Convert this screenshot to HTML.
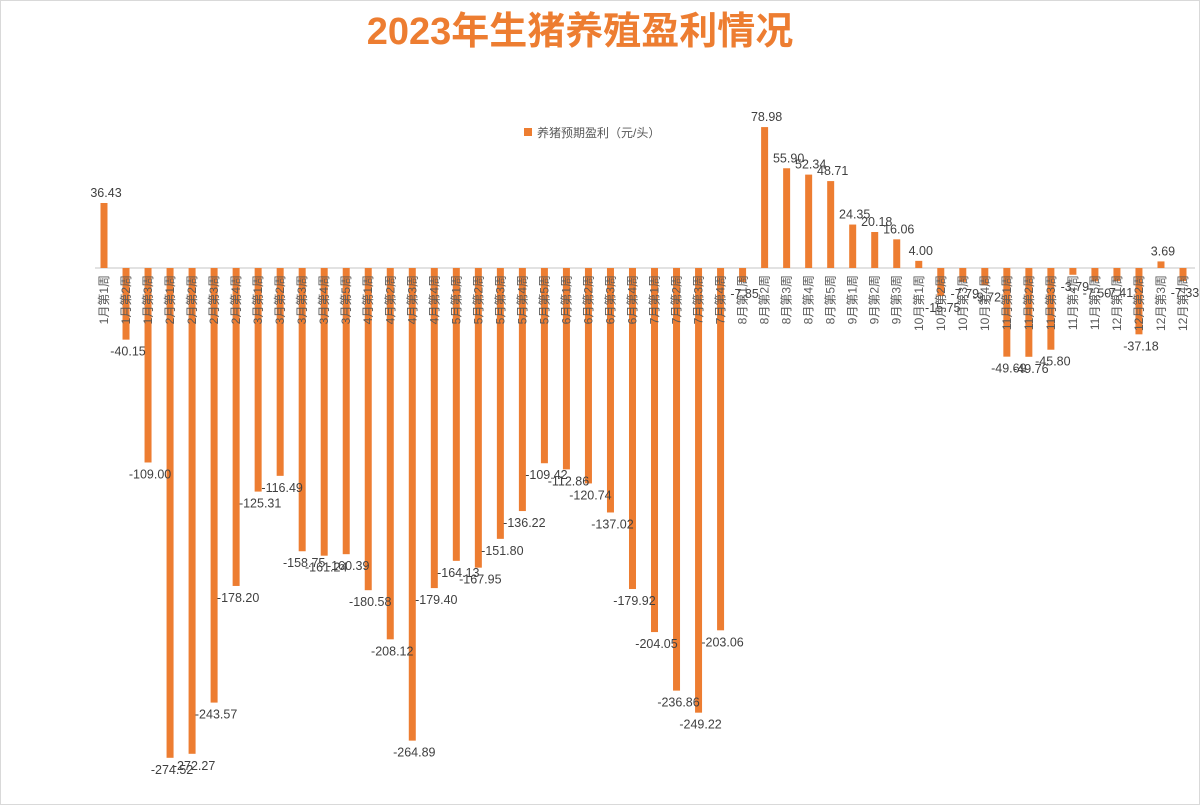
<!DOCTYPE html>
<html><head><meta charset="utf-8"><style>
body{margin:0;background:#fff;}
svg{display:block;font-family:"Liberation Sans","Noto Sans CJK SC",sans-serif;}
</style></head><body>
<svg id="chart" width="1200" height="805" viewBox="0 0 1200 805">
<rect width="1200" height="805" fill="#fff"/>
<rect x="0.5" y="0.5" width="1199" height="804" fill="none" stroke="#d9d9d9"/>
<text x="580" y="44" text-anchor="middle" font-size="38" font-weight="bold" fill="#ed7d31" font-family="'Liberation Sans','Noto Sans CJK SC',sans-serif">2023年生猪养殖盈利情况</text>
<g>
<rect x="524" y="128" width="8" height="8" fill="#ed7d31"/>
<text x="537" y="137" font-size="12" fill="#595959">养猪预期盈利（元/头）</text>
</g>
<line x1="95" y1="268" x2="1195" y2="268" stroke="#d9d9d9" stroke-width="1.5"/>
<g id="bars"></g>
<g id="vlabels"></g>
<g id="clabels"></g>
</svg>
<script>
const months = ["1","1","1","2","2","2","2","3","3","3","3","3","4","4","4","4","5","5","5","5","5","6","6","6","6","7","7","7","7","8","8","8","8","8","9","9","9","10","10","10","10","11","11","11","11","11","12","12","12","12"];
const weeks = [1,2,3,1,2,3,4,1,2,3,4,5,1,2,3,4,1,2,3,4,5,1,2,3,4,1,2,3,4,1,2,3,4,5,1,2,3,1,2,3,4,1,2,3,4,5,1,2,3,4];
const profits = [36.43,-40.15,-109.00,-274.52,-272.27,-243.57,-178.20,-125.31,-116.49,-158.75,-161.24,-160.39,-180.58,-208.12,-264.89,-179.40,-164.13,-167.95,-151.80,-136.22,-109.42,-112.86,-120.74,-137.02,-179.92,-204.05,-236.86,-249.22,-203.06,-7.85,78.98,55.90,52.34,48.71,24.35,20.18,16.06,4.00,-15.75,-7.79,-9.72,-49.69,-49.76,-45.80,-3.79,-7.50,-7.41,-37.18,3.69,-7.33];
const NS="http://www.w3.org/2000/svg";
const x0=104, step=(1183-104)/49, zeroY=268, scale=65/36.43, bw=7;
const xPos=i=>x0+i*step;
const yPos=v=>zeroY-v*scale;
const bars=document.getElementById('bars'), vl=document.getElementById('vlabels'), cl=document.getElementById('clabels');
profits.forEach((v,i)=>{
  const cx=xPos(i), y=yPos(v);
  const r=document.createElementNS(NS,'rect');
  r.setAttribute('x',cx-bw/2); r.setAttribute('width',bw);
  r.setAttribute('y',Math.min(y,zeroY)); r.setAttribute('height',Math.max(Math.abs(y-zeroY),0.5));
  r.setAttribute('fill','#ed7d31');
  
  
  bars.appendChild(r);
  const t=document.createElementNS(NS,'text');
  t.setAttribute('x',cx+2); t.setAttribute('y',v>=0?y-6:y+16);
  t.setAttribute('text-anchor','middle'); t.setAttribute('font-size','12.5'); t.setAttribute('fill','#404040');
  t.textContent=v.toFixed(2);
  
  
  vl.appendChild(t);
  const c=document.createElementNS(NS,'text');
  c.setAttribute('transform','translate('+(cx+4)+',275) rotate(-90)');
  c.setAttribute('text-anchor','end'); c.setAttribute('font-size','12'); c.setAttribute('fill','#595959');
  c.textContent=months[i]+'月第'+weeks[i]+'周';
  
  
  cl.appendChild(c);
});
</script>
</body></html>
